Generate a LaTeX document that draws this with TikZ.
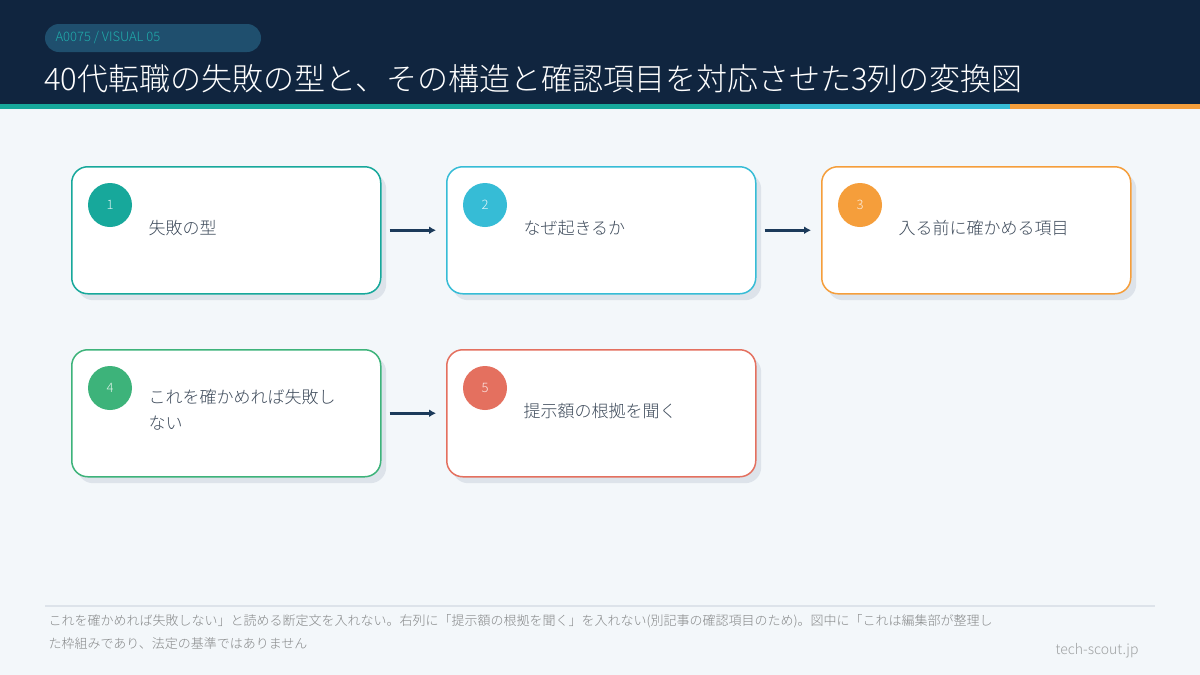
\documentclass[tikz,border=0pt]{standalone}
\usepackage{fontspec}
\setmainfont{Noto Sans CJK JP}[UprightFont={* Light}]
\usetikzlibrary{arrows.meta}
\definecolor{bg}{HTML}{F3F7FA}
\definecolor{hdr}{HTML}{10253F}
\definecolor{pill}{HTML}{1F4F6E}
\definecolor{cT}{HTML}{17A89B}
\definecolor{cC}{HTML}{36BCD6}
\definecolor{cO}{HTML}{F59E3B}
\definecolor{cG}{HTML}{3DB37A}
\definecolor{cR}{HTML}{E4705F}
\definecolor{arrc}{HTML}{1B3A5A}
\definecolor{shd}{HTML}{DDE3EA}
\definecolor{txt}{HTML}{3D4A5A}
\begin{document}
\begin{tikzpicture}[x=1pt,y=-1pt,
  box/.style={draw=#1,line width=1.5pt,fill=white,rounded corners=16pt,minimum width=309pt,minimum height=127pt,anchor=north west,inner sep=0pt},
  shadow/.style={fill=shd,rounded corners=16pt,minimum width=309pt,minimum height=127pt,anchor=north west,inner sep=0pt},
  num/.style={circle,fill=#1,minimum size=44pt,inner sep=0pt,text=white!85!#1,font=\fontsize{13}{13}\selectfont},
  lbl/.style={anchor=west,text=txt,font=\fontsize{17}{26}\selectfont,align=left,text width=230pt},
  arr/.style={draw=arrc,line width=3pt,-{Latex[length=7pt,width=8pt]}}]
\useasboundingbox (0,0) rectangle (1200,675);
\fill[bg] (0,0) rectangle (1200,675);
\fill[hdr] (0,0) rectangle (1200,104);
\fill[cT] (0,104) rectangle (780,109);
\fill[cC] (780,104) rectangle (1010,109);
\fill[cO] (1010,104) rectangle (1200,109);
\fill[pill,rounded corners=14pt] (45,24) rectangle (261,52);
\node[anchor=west,text=cT!70!cC,font=\fontsize{13}{13}\selectfont] (tag) at (52,38) {A0075 / VISUAL 05};
\node[anchor=west,inner sep=0pt,text=white,font=\fontsize{31}{31}\selectfont] (title) at (44,79) {40代転職の失敗の型と、その構造と確認項目を対応させた3列の変換図};
\foreach \n/\x/\y/\c in {1/71/166/cT, 2/446/166/cC, 3/821/166/cO, 4/71/349/cG, 5/446/349/cR}{
  \node[shadow] (s\n) at (\x+6,\y+7) {};
  \node[box=\c] (b\n) at (\x,\y) {};
  \node[num=\c] (c\n) at (\x+39,\y+39) {\n};
}
\node[lbl] (t1) at (145,228) {失敗の型};
\node[lbl] (t2) at (520,228) {なぜ起きるか};
\node[lbl] (t3) at (895,228) {入る前に確かめる項目};
\node[lbl] (t4) at (145,410) {これを確かめれば失敗し\\ない};
\node[lbl] (t5) at (520,411) {提示額の根拠を聞く};
\draw[arr] ([xshift=8pt]b1.east) -- ([xshift=-10pt]b2.west);
\draw[arr] ([xshift=8pt]b2.east) -- ([xshift=-10pt]b3.west);
\draw[arr] ([xshift=8pt]b4.east) -- ([xshift=-10pt]b5.west);
\draw[shd,line width=2pt] (45,606) coordinate (f1) -- (1155,606) coordinate (f2);
\node[anchor=north west,text=black!45!bg,font=\fontsize{13}{23}\selectfont,align=left] (foot) at (45,611) {これを確かめれば失敗しない」と読める断定文を入れない。右列に「提示額の根拠を聞く」を入れない(別記事の確認項目のため)。図中に「これは編集部が整理し\\た枠組みであり、法定の基準ではありません};
\node[anchor=east,text=black!35!bg,font=\fontsize{14}{14}\selectfont] (site) at (1142,651) {tech-scout.jp};
\end{tikzpicture}
\end{document}
